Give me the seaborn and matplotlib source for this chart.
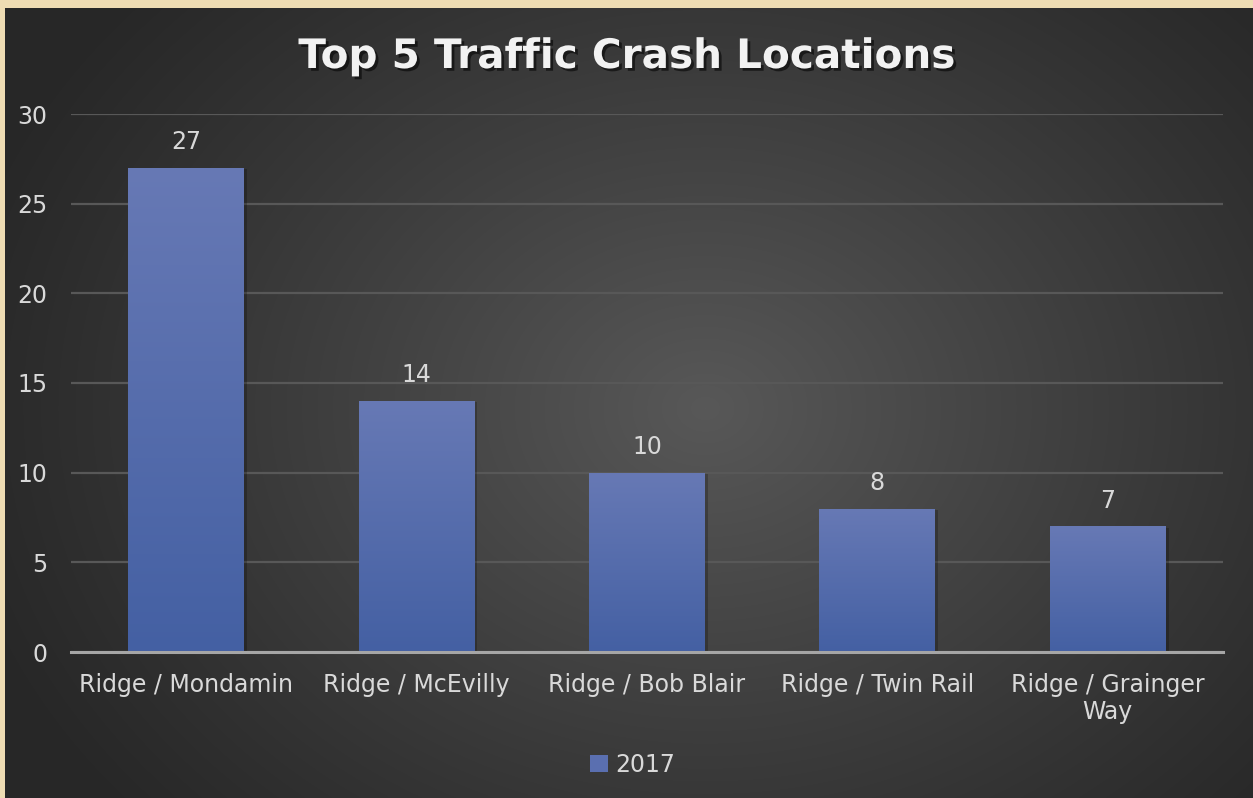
import numpy as np
import pandas as pd
import matplotlib
matplotlib.use("Agg")
import matplotlib.pyplot as plt
import matplotlib.patheffects as pe
from matplotlib.patches import Patch
from matplotlib.colors import LinearSegmentedColormap
import seaborn as sns

categories = ["Ridge / Mondamin", "Ridge / McEvilly", "Ridge / Bob Blair",
              "Ridge / Twin Rail", "Ridge / Grainger\nWay"]
crashes_2017 = [27, 14, 10, 8, 7]
yticks = [0, 5, 10, 15, 20, 25, 30]
series_name = "2017"
title = "Top 5 Traffic Crash Locations"

df = pd.DataFrame({"Location": categories, "Crashes": crashes_2017})

sns.set_theme(style="white")
plt.rcParams["font.family"] = ["DejaVu Sans"]

W, H = 1253, 798
fig = plt.figure(figsize=(W / 100, H / 100), dpi=100)
fig.patch.set_facecolor("#EEDCB3")

# dark panel with radial gradient
px0, py0 = 5, 8
panel = fig.add_axes([px0 / W, 0, (W - px0) / W, (H - py0) / H])
panel.set_axis_off()
pw, ph = W - px0, H - py0
yy, xx = np.mgrid[0:ph, 0:pw]
cx, cy = 700, 400
r = np.sqrt((xx - cx) ** 2 + ((yy - cy) * 1.25) ** 2)
t = np.clip(1 - r / 780, 0, 1) ** 1.1
edge, center = 0x27 / 255, 0x58 / 255
val = edge + (center - edge) * t
img = np.dstack([val, val, val])
panel.imshow(img, aspect="auto", extent=[0, pw, ph, 0], interpolation="bilinear")
panel.set_xlim(0, pw)
panel.set_ylim(ph, 0)

# main axes
left, right = 71 / W, 1223 / W
bottom, top = 1 - 652 / H, 1 - 114 / H
ax = fig.add_axes([left, bottom, right - left, top - bottom])
ax.patch.set_alpha(0)

sns.barplot(data=df, x="Location", y="Crashes", ax=ax, width=0.503,
            color="#5a6fb0", saturation=1, zorder=3, errorbar=None,
            linewidth=0, edgecolor="none")

ax.set_xlim(-0.5, len(categories) - 0.5)
ax.set_ylim(0, 30)
ax.set_yticks(yticks)
ax.grid(axis="y", color="#585858", linewidth=1.6, zorder=1)
ax.grid(axis="x", visible=False)
for s in ["top", "right", "left"]:
    ax.spines[s].set_visible(False)
ax.spines["bottom"].set_color("#a6a6a6")
ax.spines["bottom"].set_linewidth(2.2)
ax.spines["bottom"].set_zorder(5)
ax.tick_params(axis="y", length=0, pad=17, labelsize=17, labelcolor="#d9d9d9")
ax.tick_params(axis="x", length=0, pad=15, labelsize=17, labelcolor="#d9d9d9")
ax.set_xlabel("")
ax.set_ylabel("")
for lbl in ax.get_xticklabels():
    lbl.set_linespacing(1.15)

# gradient fill for bars
cmap = LinearSegmentedColormap.from_list("bar", ["#4460a3", "#6779b5"])
grad = np.linspace(0, 1, 256).reshape(-1, 1)
for p in ax.patches:
    x0, w, h = p.get_x(), p.get_width(), p.get_height()
    p.set_linewidth(0)
    p.set_path_effects([pe.SimplePatchShadow(offset=(2, -1), alpha=0.22,
                                             shadow_rgbFace="#000000"),
                        pe.Normal()])
    im = ax.imshow(grad, cmap=cmap, aspect="auto", origin="lower",
                   extent=[x0, x0 + w, 0, h], zorder=4)
    im.set_clip_path(p)
ax.set_xlim(-0.5, len(categories) - 0.5)
ax.set_ylim(0, 30)

# value labels
for i, v in enumerate(crashes_2017):
    ax.annotate(str(v), (i, v), xytext=(0, 10), textcoords="offset points",
                ha="center", va="bottom", fontsize=17, color="#d9d9d9")

# title
fig.text(0.5, 1 - 57 / H, title, ha="center", va="center", fontsize=29.2,
         fontweight="bold", color="#f2f2f2",
         path_effects=[pe.withSimplePatchShadow(offset=(2, -2), alpha=0.55,
                                                shadow_rgbFace="#000000")])

# legend
handle = Patch(facecolor="#5a6fb0", edgecolor="none", label=series_name)
fig.legend(handles=[handle], loc="center", bbox_to_anchor=(0.505, 1 - 765 / H),
           frameon=False, fontsize=17, labelcolor="#d9d9d9",
           handlelength=0.75, handleheight=0.75, handletextpad=0.3)

fig.savefig("out.png", dpi=100, facecolor=fig.get_facecolor())
